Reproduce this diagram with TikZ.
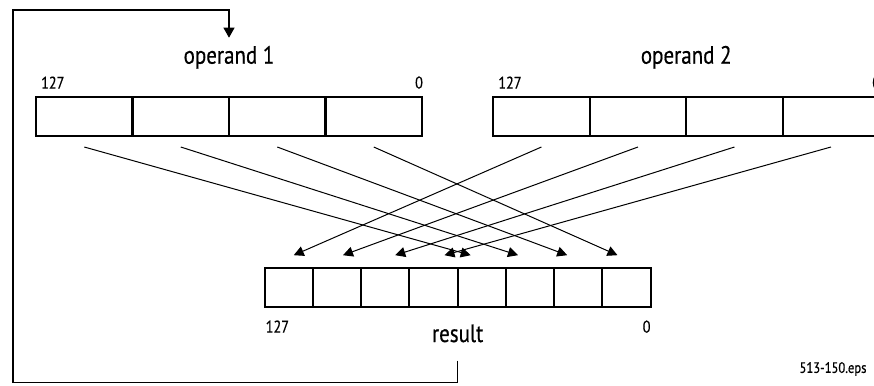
\documentclass[tikz,border=0pt]{standalone}
\usepackage{fontspec}
\setmainfont[FakeStretch=0.84,FakeBold=0.5]{PT Sans}
\usetikzlibrary{matrix,positioning,arrows.meta,calc}

\begin{document}
\begin{tikzpicture}[x=1pt,y=-1pt,
  regmat/.style={matrix of nodes,nodes in empty cells,column sep=-2.2pt,
  inner sep=0pt,outer sep=0pt,
  nodes={draw,line width=2.2pt,outer sep=0pt,minimum height=39pt}},
  widecell/.style={minimum width=96.5pt},
  narrowcell/.style={minimum width=48.25pt},
  opname/.style={font=\fontsize{25}{29}\selectfont,inner sep=0pt},
  bitno/.style={font=\fontsize{17}{20}\selectfont,inner sep=0pt},
  conn/.style={line width=1pt,-{Triangle[length=10pt,width=10pt]}},
  loopline/.style={line width=1.1pt,-{Triangle[length=10pt,width=11pt]}}]

  \useasboundingbox (0,0) rectangle (874,385);

  \matrix[regmat,nodes=widecell] at (229,116.5) (op1) {&&&\\};

  \matrix[regmat,nodes=widecell,right=69pt of op1] (op2) {&&&\\};

  \coordinate (mid) at ($(op1.south)!0.5!(op2.south)$);
  \matrix[regmat,nodes=narrowcell,below=130pt of mid] (res) {&&&&&&&\\};

  \node[opname,above=27pt of op1] (op1name) {operand 1};
  \node[opname,above=27pt of op2] (op2name) {operand 2};
  \node[bitno,above right=7pt and 6pt of op1.north west] (op1hi) {127};
  \node[bitno,above left=7pt and 0pt of op1.north east] (op1lo) {0};
  \node[bitno,above right=7pt and 6pt of op2.north west] (op2hi) {127};
  \node[bitno,above left=7pt and 0pt of op2.north east] (op2lo) {0};

  \node[bitno,below right=12pt and 2pt of res.south west] (reshi) {127};
  \node[bitno,below left=12pt and 1pt of res.south east] (reslo) {0};
  \node[opname,below=16pt of res] (resname) {result};

  \node[font=\fontsize{15}{18}\selectfont,inner sep=0pt] at (833,369) (epsname) {513-150.eps};

  % operand 1 goes to the low half of result
  \draw[conn] ([yshift=-11pt]op1-1-1.south) -- ([xshift=-11pt,yshift=13pt]res-1-5.north);
  \draw[conn] ([yshift=-11pt]op1-1-2.south) -- ([xshift=-12pt,yshift=13pt]res-1-6.north);
  \draw[conn] ([yshift=-11pt]op1-1-3.south) -- ([xshift=-11pt,yshift=13pt]res-1-7.north);
  \draw[conn] ([yshift=-11pt]op1-1-4.south) -- ([xshift=-9pt,yshift=13pt]res-1-8.north);

  % operand 2 goes to the high half
  \draw[conn] ([yshift=-11pt]op2-1-1.south) -- ([xshift=5pt,yshift=13pt]res-1-1.north);
  \draw[conn] ([yshift=-11pt]op2-1-2.south) -- ([xshift=6pt,yshift=13pt]res-1-2.north);
  \draw[conn] ([yshift=-11pt]op2-1-3.south) -- ([xshift=10pt,yshift=13pt]res-1-3.north);
  \draw[conn] ([yshift=-11pt]op2-1-4.south) -- ([xshift=11pt,yshift=13pt]res-1-4.north);

  % result fed back as operand 1
  \draw[loopline] ([yshift=-18pt]resname.south) -- ++(0,22) -| (13,10)
  -| ([yshift=8pt]op1name.north);

\end{tikzpicture}
\end{document}
